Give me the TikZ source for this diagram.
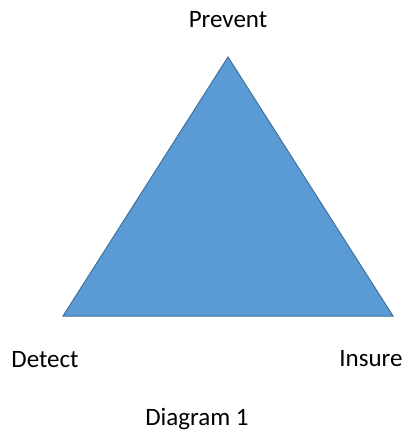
\documentclass[tikz,border=0pt]{standalone}
\usepackage{fontspec}
\setmainfont{Carlito}
\definecolor{trifill}{HTML}{5B9BD5}
\definecolor{triedge}{HTML}{41719C}
\begin{document}
\begin{tikzpicture}[x=1pt,y=-1pt,
  lbl/.style={font=\fontsize{25}{28}\selectfont, anchor=base, inner sep=0pt}]
\useasboundingbox (0,0) rectangle (407,436);
\coordinate (apex) at (228,57);
\coordinate (bl) at (63,316);
\coordinate (br) at (393,316);
\draw[fill=trifill, draw=triedge, line width=1pt, line join=miter] (apex) -- (bl) -- (br) -- cycle;
\node[lbl] (prevent) at (228,28) {Prevent};
\node[lbl] (detect) at (45,367) {Detect};
\node[lbl] (insure) at (371,366) {Insure};
\node[lbl] (diag) at (197,425) {Diagram 1};
\end{tikzpicture}
\end{document}
